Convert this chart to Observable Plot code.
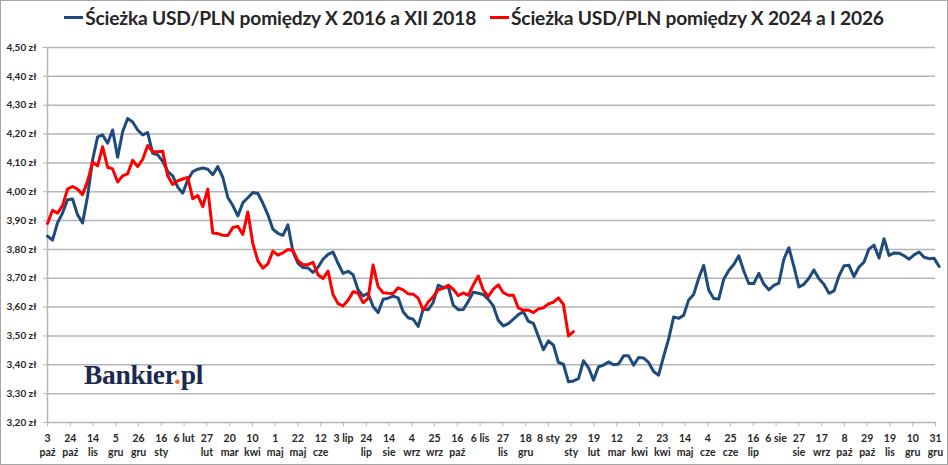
<!DOCTYPE html>
<html><head><meta charset="utf-8">
<script src="https://cdn.jsdelivr.net/npm/d3@7"></script>
<script src="https://cdn.jsdelivr.net/npm/@observablehq/plot@0.6"></script>
<style>
body{margin:0;background:#fff;}
#wrap{position:relative;width:948px;height:465px;overflow:hidden;font-family:Lato,sans-serif;background:#fff;}
#frame{position:absolute;left:0;top:0;width:948px;height:465px;box-sizing:border-box;border:1px solid #a6a6a6;pointer-events:none;}
#chart{position:absolute;left:0;top:0;}
#legend{position:absolute;top:6px;left:0;width:948px;display:flex;justify-content:center;gap:14px;font-weight:bold;font-size:19.2px;color:#262626;white-space:nowrap;letter-spacing:-0.2px;}
.item{display:flex;align-items:center;}
.sw{display:inline-block;width:19px;height:3px;margin-right:2px;}
#logo{position:absolute;left:84px;top:359px;font-family:"Liberation Serif",serif;font-weight:bold;font-size:27.5px;color:#1b2a4e;letter-spacing:-0.3px;}
#logo span{color:#f26522;}
</style></head>
<body>
<div id="wrap">
  <div id="chart"></div>
  <div id="legend"></div>
  <div id="logo">Bankier<span>.</span>pl</div>
  <div id="frame"></div>
</div>
<script>
const seriesNames = ["Ścieżka USD/PLN pomiędzy X 2016 a XII 2018", "Ścieżka USD/PLN pomiędzy X 2024 a I 2026"];
const seriesColors = ["#1f4a7c", "#ff0000"];

// trading days between consecutive samples
const sampleStep = 3.3;

// USD/PLN, Oct 2016 - Dec 2018 (sampled)
const blueValues = [
3.846,3.832,3.892,3.926,3.972,3.975,3.920,3.892,3.984,4.110,
4.190,4.197,4.168,4.214,4.120,4.208,4.254,4.242,4.214,4.197,
4.205,4.133,4.128,4.105,4.070,4.055,4.016,3.995,4.041,4.070,
4.078,4.082,4.078,4.059,4.087,4.050,3.980,3.952,3.916,3.962,
3.979,3.997,3.994,3.960,3.920,3.870,3.856,3.849,3.885,3.792,
3.752,3.737,3.736,3.720,3.738,3.766,3.783,3.791,3.752,3.717,
3.724,3.712,3.660,3.639,3.648,3.602,3.581,3.627,3.631,3.638,
3.632,3.584,3.563,3.558,3.533,3.593,3.591,3.616,3.676,3.668,
3.671,3.607,3.591,3.592,3.620,3.652,3.648,3.644,3.627,3.604,
3.554,3.535,3.543,3.558,3.574,3.584,3.551,3.544,3.498,3.452,
3.483,3.468,3.408,3.402,3.341,3.344,3.352,3.414,3.390,3.347,
3.393,3.399,3.410,3.400,3.403,3.431,3.431,3.399,3.425,3.424,
3.408,3.377,3.364,3.429,3.490,3.566,3.561,3.572,3.625,3.644,
3.700,3.745,3.659,3.630,3.628,3.697,3.727,3.748,3.778,3.725,
3.682,3.682,3.717,3.680,3.660,3.675,3.683,3.766,3.806,3.741,
3.670,3.679,3.700,3.729,3.698,3.679,3.648,3.656,3.708,3.743,
3.745,3.706,3.739,3.756,3.802,3.815,3.770,3.837,3.779,3.788,
3.787,3.778,3.766,3.781,3.791,3.773,3.768,3.769,3.741
];

// USD/PLN, Oct 2024 - Jan 2026 (sampled)
const redValues = [
3.890,3.936,3.926,3.952,4.009,4.018,4.009,3.990,4.036,4.103,
4.090,4.156,4.085,4.079,4.034,4.055,4.062,4.109,4.087,4.112,
4.160,4.139,4.139,4.140,4.055,4.025,4.038,4.044,4.050,3.976,
3.987,3.948,4.009,3.857,3.855,3.849,3.848,3.876,3.880,3.852,
3.930,3.820,3.760,3.735,3.750,3.794,3.780,3.788,3.800,3.796,
3.761,3.747,3.747,3.755,3.712,3.699,3.725,3.644,3.612,3.604,
3.624,3.653,3.649,3.615,3.630,3.746,3.671,3.650,3.648,3.647,
3.667,3.660,3.646,3.645,3.631,3.589,3.618,3.636,3.660,3.665,
3.676,3.662,3.640,3.649,3.641,3.677,3.708,3.659,3.637,3.662,
3.677,3.650,3.641,3.641,3.597,3.589,3.590,3.581,3.594,3.598,
3.611,3.617,3.632,3.609,3.500,3.515
];

const tickLabels = ["3\npaź","24\npaź","14\nlis","5\ngru","26\ngru","16\nsty","6 lut","27\nlut","20\nmar","10\nkwi",
"1\nmaj","22\nmaj","12\ncze","3 lip","24\nlip","14\nsie","4\nwrz","25\nwrz","16\npaź","6 lis",
"27\nlis","18\ngru","8 sty","29\nsty","19\nlut","12\nmar","2\nkwi","23\nkwi","14\nmaj","4\ncze",
"25\ncze","16\nlip","6 sie","27\nsie","17\nwrz","8\npaź","29\npaź","19\nlis","10\ngru","31\ngru"];
const tickEvery = 15; // trading days between labels

const yTicks = [3.2,3.3,3.4,3.5,3.6,3.7,3.8,3.9,4.0,4.1,4.2,4.3,4.4,4.5];

const blue = blueValues.map((v,i)=>({day:i*sampleStep, value:v}));
const red = redValues.map((v,i)=>({day:i*sampleStep, value:v}));
const tickDays = tickLabels.map((_,i)=>i*tickEvery);
const gridColor = "#b5b5b5";

const chart = Plot.plot({
  width:948, height:465,
  marginTop:47, marginBottom:43, marginLeft:47, marginRight:13,
  x:{domain:[0,585]},
  y:{domain:[3.2,4.5]},
  style:{fontFamily:"Lato, sans-serif", background:"transparent", overflow:"visible"},
  marks:[
    Plot.gridY(yTicks,{stroke:gridColor, strokeOpacity:1, strokeWidth:1.5}),
    Plot.axisY(yTicks,{tickFormat:d=>d.toFixed(2).replace(".",",")+" zł", tickSize:4, tickPadding:7,
      fontWeight:"bold", fontSize:10, stroke:gridColor, fill:"#262626", label:null}),
    Plot.axisX(tickDays,{tickSize:4, tickFormat:()=>"", stroke:gridColor, label:null}),
    Plot.text(tickDays,{x:d=>d, frameAnchor:"bottom", dy:10, lineAnchor:"top", text:(d,i)=>tickLabels[i],
      fontWeight:"bold", fontSize:10.5, lineHeight:1.3, fill:"#262626"}),
    Plot.ruleX([0],{stroke:gridColor, strokeWidth:1.5}),
    Plot.line(blue,{x:"day", y:"value", stroke:seriesColors[0], strokeWidth:3, strokeLinejoin:"round"}),
    Plot.line(red,{x:"day", y:"value", stroke:seriesColors[1], strokeWidth:3, strokeLinejoin:"round"})
  ]
});
document.getElementById("chart").appendChild(chart);

const legend = document.getElementById("legend");
seriesNames.forEach((n,i)=>{
  const it = document.createElement("div"); it.className="item";
  const sw = document.createElement("span"); sw.className="sw"; sw.style.background=seriesColors[i];
  const tx = document.createElement("span"); tx.textContent=n;
  it.appendChild(sw); it.appendChild(tx); legend.appendChild(it);
});
</script>
</body></html>
